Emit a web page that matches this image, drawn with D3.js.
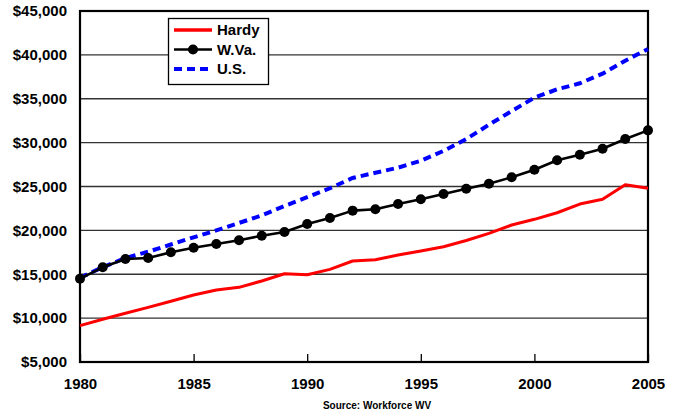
<!DOCTYPE html>
<html><head><meta charset="utf-8">
<script src="https://cdn.jsdelivr.net/npm/d3@7"></script>
<style>
html,body{margin:0;padding:0;background:#fff;}
svg{display:block;font-family:"Liberation Sans",Arial,sans-serif;}
</style></head>
<body><svg id="c" width="674" height="416"></svg>
<script>
const years = d3.range(1980, 2006);
const hardy = [9150, 9870, 10550, 11230, 11920, 12640, 13205, 13510, 14230, 15060,
  14950, 15560, 16510, 16660, 17190, 17650, 18140, 18850, 19660, 20610,
  21260, 22010, 23000, 23540, 25200, 24800];
const wva = [14500, 15790, 16740, 16850, 17500, 18030, 18450, 18870, 19390, 19815,
  20730, 21410, 22250, 22400, 23000, 23540, 24145, 24750, 25320, 26050,
  26915, 27990, 28620, 29310, 30410, 31400];
const us = [14600, 15800, 16850, 17570, 18390, 19210, 20000, 20850, 21700, 22780,
  23780, 24800, 25970, 26570, 27140, 27940, 29050, 30400, 32040, 33600,
  35120, 36070, 36760, 37860, 39340, 40670];
const yTicks = [5000, 10000, 15000, 20000, 25000, 30000, 35000, 40000, 45000];
const xTicks = [1980, 1985, 1990, 1995, 2000, 2005];
const seriesNames = ["Hardy", "W.Va.", "U.S."];
const source = "Source: Workforce WV";

const svg = d3.select("#c");
const L = 80, R = 648, T = 11, B = 362;
const x = d3.scaleLinear().domain([1980, 2005]).range([L, R]);
const y = d3.scaleLinear().domain([5000, 45000]).range([B, T]);

// gridlines
svg.append("g").selectAll("line").data(yTicks.filter(v => v > 5000 && v < 45000)).join("line")
  .attr("x1", L).attr("x2", R).attr("y1", d => y(d)).attr("y2", d => y(d))
  .attr("stroke", "#333").attr("stroke-width", 1.3);

// y axis
const yAxis = d3.axisLeft(y).tickValues(yTicks).tickSize(0).tickPadding(13)
  .tickFormat(d => "$" + d3.format(",")(d));
const gy = svg.append("g").attr("transform", `translate(${L},0)`).call(yAxis);
gy.select(".domain").remove();
gy.selectAll("text").attr("font-size", 15).attr("font-weight", "bold").attr("fill", "#000")
  .attr("font-family", "Liberation Sans, Arial, sans-serif");

// x axis
const xAxis = d3.axisBottom(x).tickValues(xTicks).tickSize(-8).tickPadding(16).tickFormat(d3.format("d"));
const gx = svg.append("g").attr("transform", `translate(0,${B})`).call(xAxis);
gx.select(".domain").remove();
gx.selectAll(".tick line").attr("stroke", "#000").attr("stroke-width", 1.3);
gx.selectAll("text").attr("font-size", 15).attr("font-weight", "bold").attr("fill", "#000")
  .attr("font-family", "Liberation Sans, Arial, sans-serif");

// frame
svg.append("rect").attr("x", L).attr("y", T).attr("width", R - L).attr("height", B - T)
  .attr("fill", "none").attr("stroke", "#000").attr("stroke-width", 2.2);

const line = d3.line().x((d, i) => x(years[i])).y(d => y(d));

svg.append("path").datum(us).attr("d", line).attr("fill", "none")
  .attr("stroke", "#0000ff").attr("stroke-width", 4).attr("stroke-dasharray", "8,5");
svg.append("path").datum(hardy).attr("d", line).attr("fill", "none")
  .attr("stroke", "#ff0000").attr("stroke-width", 3).attr("stroke-linejoin", "round");
svg.append("path").datum(wva).attr("d", line).attr("fill", "none")
  .attr("stroke", "#000").attr("stroke-width", 2.6).attr("stroke-linejoin", "round");
svg.append("g").selectAll("circle").data(wva).join("circle")
  .attr("cx", (d, i) => x(years[i])).attr("cy", d => y(d)).attr("r", 5).attr("fill", "#000");

// legend
const lg = svg.append("g");
lg.append("rect").attr("x", 168.5).attr("y", 18.5).attr("width", 100).attr("height", 66)
  .attr("fill", "#fff").attr("stroke", "#000").attr("stroke-width", 1.3);
const rows = [
  {name: seriesNames[0], color: "#ff0000", w: 3.5, dash: null, marker: false},
  {name: seriesNames[1], color: "#000", w: 2.6, dash: null, marker: true},
  {name: seriesNames[2], color: "#0000ff", w: 4, dash: "8,5", marker: false}
];
rows.forEach((r, i) => {
  const cy = 30 + i * 19.5;
  lg.append("line").attr("x1", 174).attr("x2", 212).attr("y1", cy).attr("y2", cy)
    .attr("stroke", r.color).attr("stroke-width", r.w).attr("stroke-dasharray", r.dash);
  if (r.marker) lg.append("circle").attr("cx", 193).attr("cy", cy).attr("r", 5).attr("fill", "#000");
  lg.append("text").attr("x", 217).attr("y", cy).attr("dy", "0.36em")
    .attr("font-size", 15).attr("font-weight", "bold").text(r.name);
});

svg.append("text").attr("x", 377).attr("y", 409).attr("text-anchor", "middle")
  .attr("font-size", 10).attr("font-weight", "bold").text(source);
</script></body></html>
